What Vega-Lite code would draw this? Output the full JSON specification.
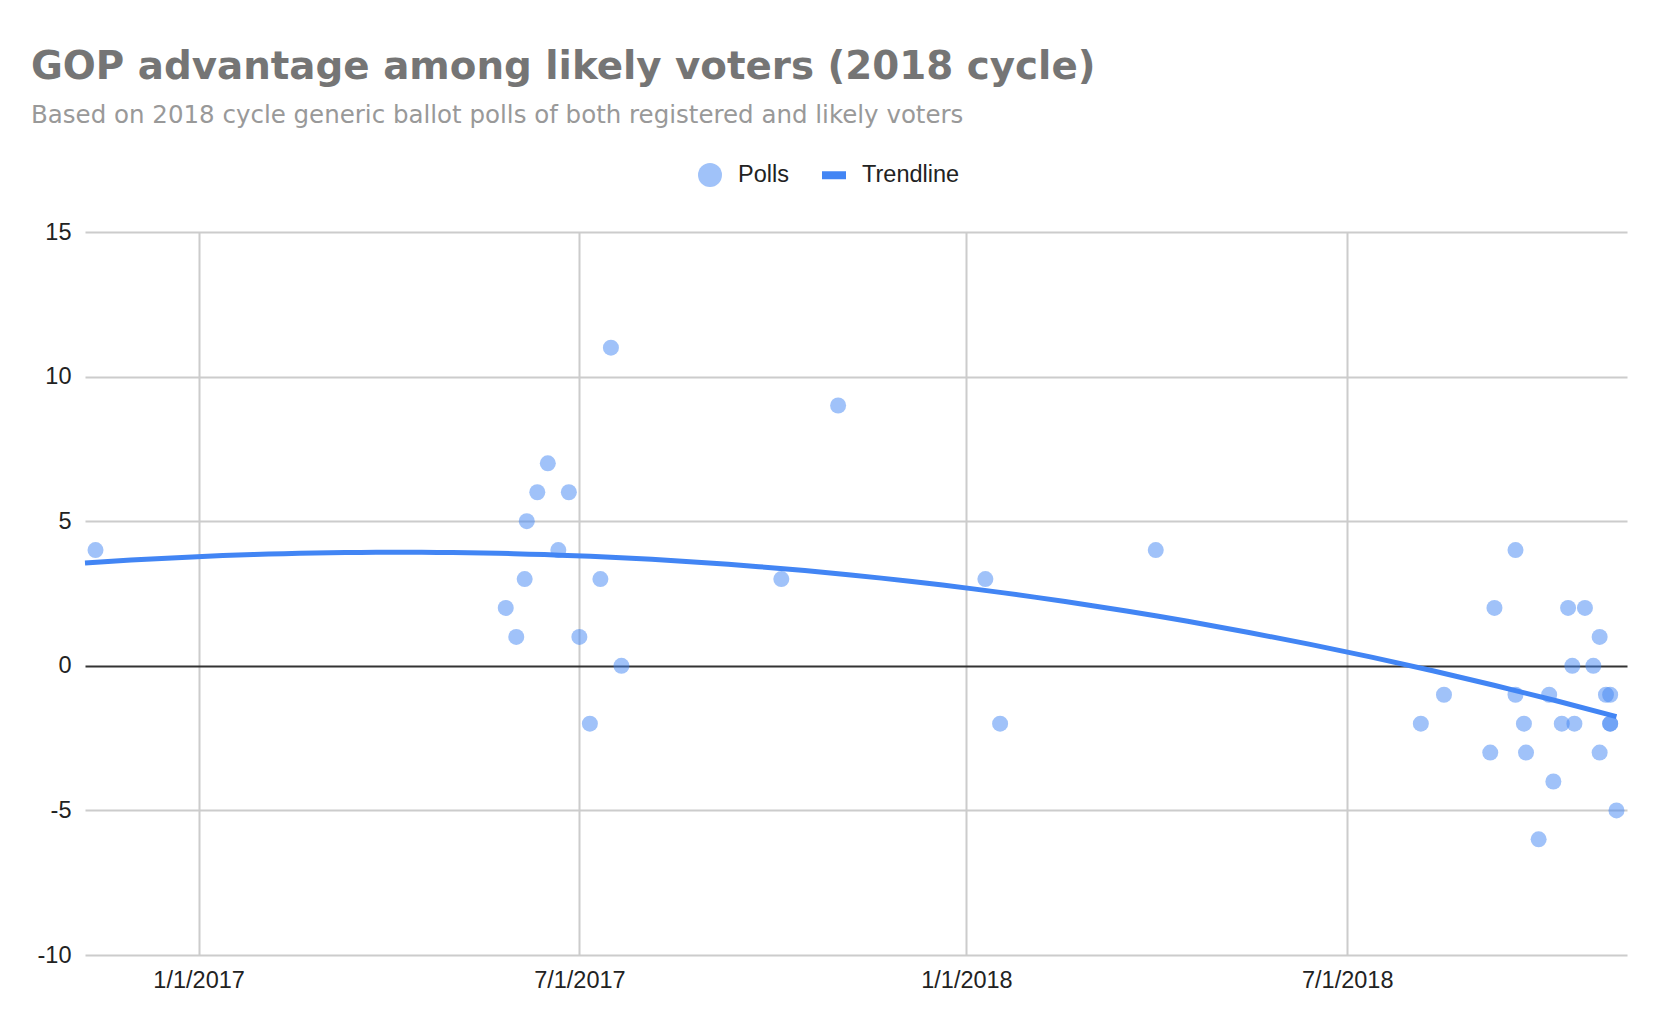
{
  "$schema": "https://vega.github.io/schema/vega-lite/v6.json",
  "autosize": {"type": "none"},
  "padding": {"left": 85, "top": 232, "right": 45, "bottom": 77},
  "width": 1542,
  "height": 723,
  "background": "#ffffff",
  "title": {
    "text": "GOP advantage among likely voters (2018 cycle)",
    "subtitle": "Based on 2018 cycle generic ballot polls of both registered and likely voters",
    "anchor": "start",
    "frame": "group",
    "orient": "top",
    "font": "DejaVu Sans",
    "fontSize": 38.8,
    "fontWeight": "bold",
    "color": "#757575",
    "subtitleFont": "DejaVu Sans",
    "subtitleFontSize": 24.5,
    "subtitleColor": "#999999",
    "subtitlePadding": 16.5,
    "dx": -54,
    "offset": 36
  },
  "data": {
    "values": [
      {"date": "2016-11-13", "gop": 4},
      {"date": "2017-05-27", "gop": 2},
      {"date": "2017-06-01", "gop": 1},
      {"date": "2017-06-05", "gop": 3},
      {"date": "2017-06-06", "gop": 5},
      {"date": "2017-06-11", "gop": 6},
      {"date": "2017-06-16", "gop": 7},
      {"date": "2017-06-21", "gop": 4},
      {"date": "2017-06-26", "gop": 6},
      {"date": "2017-07-01", "gop": 1},
      {"date": "2017-07-06", "gop": -2},
      {"date": "2017-07-11", "gop": 3},
      {"date": "2017-07-16", "gop": 11},
      {"date": "2017-07-21", "gop": 0},
      {"date": "2017-10-05", "gop": 3},
      {"date": "2017-11-01", "gop": 9},
      {"date": "2018-01-10", "gop": 3},
      {"date": "2018-01-17", "gop": -2},
      {"date": "2018-04-01", "gop": 4},
      {"date": "2018-08-05", "gop": -2},
      {"date": "2018-08-16", "gop": -1},
      {"date": "2018-09-07", "gop": -3},
      {"date": "2018-09-09", "gop": 2},
      {"date": "2018-09-19", "gop": 4},
      {"date": "2018-09-19", "gop": -1},
      {"date": "2018-09-23", "gop": -2},
      {"date": "2018-09-24", "gop": -3},
      {"date": "2018-09-30", "gop": -6},
      {"date": "2018-10-05", "gop": -1},
      {"date": "2018-10-07", "gop": -4},
      {"date": "2018-10-11", "gop": -2},
      {"date": "2018-10-14", "gop": 2},
      {"date": "2018-10-16", "gop": 0},
      {"date": "2018-10-17", "gop": -2},
      {"date": "2018-10-22", "gop": 2},
      {"date": "2018-10-26", "gop": 0},
      {"date": "2018-10-29", "gop": 1},
      {"date": "2018-10-29", "gop": -3},
      {"date": "2018-11-01", "gop": -1},
      {"date": "2018-11-03", "gop": -1},
      {"date": "2018-11-03", "gop": -2},
      {"date": "2018-11-03", "gop": -2},
      {"date": "2018-11-06", "gop": -5}
    ],
    "format": {"parse": {"date": "date"}}
  },
  "encoding": {
    "x": {
      "field": "date",
      "type": "temporal",
      "title": null,
      "scale": {
        "type": "utc",
        "domain": [
          {"year": 2016, "month": 11, "date": 8, "utc": true},
          {"year": 2018, "month": 11, "date": 11, "utc": true}
        ],
        "nice": false
      },
      "axis": {
        "values": [
          {"year": 2017, "month": 1, "date": 1, "utc": true},
          {"year": 2017, "month": 7, "date": 1, "utc": true},
          {"year": 2018, "month": 1, "date": 1, "utc": true},
          {"year": 2018, "month": 7, "date": 1, "utc": true}
        ],
        "labelExpr": "utcFormat(datum.value, '%-m/%-d/%Y')",
        "labelFont": "Liberation Sans",
        "labelFontSize": 23.5,
        "labelColor": "#222222",
        "labelPadding": 13,
        "ticks": false,
        "tickSize": 0,
        "domain": false,
        "grid": true,
        "gridColor": "#cccccc",
        "gridWidth": 2,
        "labelOverlap": false
      }
    },
    "y": {
      "field": "gop",
      "type": "quantitative",
      "title": null,
      "scale": {"domain": [-10, 15], "nice": false, "zero": false},
      "axis": {
        "values": [-10, -5, 0, 5, 10, 15],
        "labelExpr": "'' + datum.value",
        "labelFont": "Liberation Sans",
        "labelFontSize": 23.5,
        "labelColor": "#222222",
        "labelPadding": 14,
        "ticks": false,
        "tickSize": 0,
        "domain": false,
        "grid": true,
        "gridColor": {"condition": {"test": "datum.value === 0", "value": "#333333"}, "value": "#cccccc"},
        "gridWidth": 2
      }
    }
  },
  "layer": [
    {
      "mark": {"type": "point", "filled": true, "size": 256, "opacity": 0.5, "strokeWidth": 0},
      "encoding": {
        "color": {
          "datum": "Polls",
          "type": "nominal",
          "scale": {"domain": ["Polls", "Trendline"], "range": ["#4285f4", "#4285f4"]},
          "legend": {
            "title": null,
            "orient": "none",
            "legendX": 613,
            "legendY": -69,
            "direction": "horizontal",
            "padding": 0,
            "labelFont": "Liberation Sans",
            "labelFontSize": 23.5,
            "labelColor": "#222222",
            "labelOffset": 16,
            "columnPadding": 33,
            "symbolSize": 576,
            "encode": {
              "symbols": {
                "update": {
                  "shape": {"signal": "datum.value === 'Polls' ? 'circle' : 'M-1,-0.333H1V0.333H-1Z'"},
                  "size": {"value": 576},
                  "fill": {"value": "#4285f4"},
                  "fillOpacity": {"signal": "datum.value === 'Polls' ? 0.5 : 1"},
                  "opacity": {"value": 1},
                  "strokeWidth": {"value": 0}
                }
              }
            }
          }
        }
      }
    },
    {
      "transform": [
        {
          "regression": "gop",
          "on": "date",
          "method": "poly",
          "order": 2,
          "extent": [1478563200000, 1541462400000]
        }
      ],
      "mark": {"type": "line", "strokeWidth": 5, "strokeCap": "butt"},
      "encoding": {
        "color": {
          "datum": "Trendline",
          "type": "nominal",
          "legend": {
            "title": null,
            "orient": "none",
            "legendX": 613,
            "legendY": -69,
            "direction": "horizontal",
            "padding": 0,
            "labelFont": "Liberation Sans",
            "labelFontSize": 23.5,
            "labelColor": "#222222",
            "labelOffset": 16,
            "columnPadding": 33,
            "symbolSize": 576,
            "encode": {
              "symbols": {
                "update": {
                  "shape": {"signal": "datum.value === 'Polls' ? 'circle' : 'M-1,-0.333H1V0.333H-1Z'"},
                  "size": {"value": 576},
                  "fill": {"value": "#4285f4"},
                  "fillOpacity": {"signal": "datum.value === 'Polls' ? 0.5 : 1"},
                  "opacity": {"value": 1},
                  "strokeWidth": {"value": 0}
                }
              }
            }
          }
        }
      }
    }
  ],
  "config": {
    "view": {"stroke": null}
  }
}
